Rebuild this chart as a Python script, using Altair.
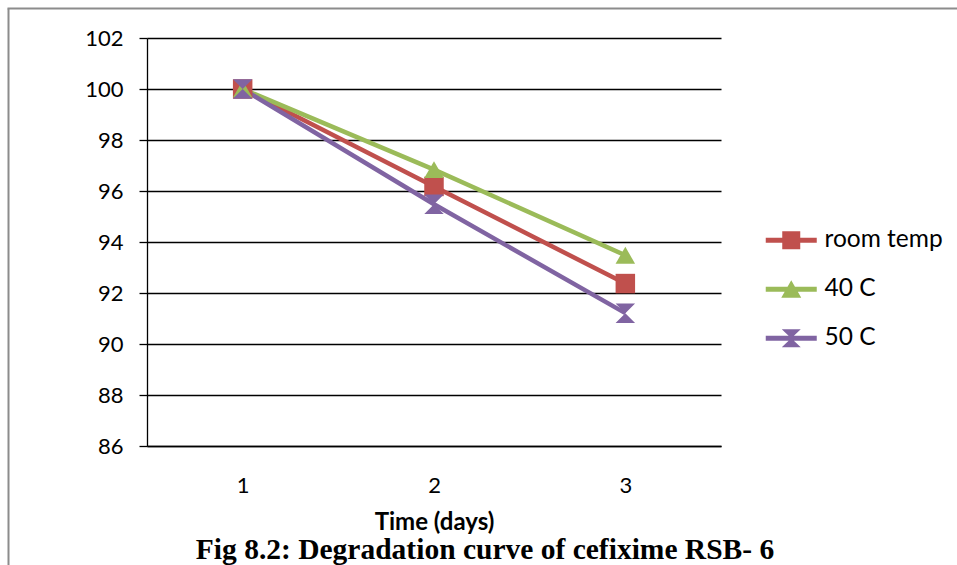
import altair as alt
import pandas as pd

# ---- data ----
days = [1, 2, 3]
series_names = ["room temp", "40 C", "50 C"]
room_temp = [100.0, 96.18, 92.37]
c40 = [100.0, 96.84, 93.48]
c50 = [100.0, 95.48, 91.21]
y_ticks = [86, 88, 90, 92, 94, 96, 98, 100, 102]
colors = ["#C0504D", "#9BBB59", "#8064A2"]

rows = []
for name, vals in zip(series_names, [room_temp, c40, c50]):
    for d, v in zip(days, vals):
        rows.append({"day": d, "value": v, "series": name})
df = pd.DataFrame(rows)

# marker shapes
hourglass = "M-1,-1H1L0,0Z M0,0L1,1H-1Z"
plot_shapes = ["square", "triangle-up", hourglass]
bar = "M-2.55,-0.25H2.55V0.25H-2.55Z "
legend_shapes = [
    bar + "M-0.9,-0.9H0.9V0.9H-0.9Z",
    bar + "M0,-0.9L1,0.85H-1Z",
    bar + "M-0.95,-0.9H0.95L0,0Z M0,0L0.95,0.9H-0.95Z",
]

FONT = "Lato"

x_enc = alt.X(
    "day:O",
    title="Time (days)",
    axis=alt.Axis(
        labelAngle=0,
        ticks=False,
        grid=False,
        domain=True,
        domainColor="black",
        domainWidth=1.3,
        labelFont=FONT,
        labelFontSize=22,
        labelColor="black",
        labelPadding=29,
        titleFont=FONT,
        titleFontSize=24,
        titleFontWeight="bold",
        titleColor="black",
        titlePadding=14,
    ),
)
y_enc = alt.Y(
    "value:Q",
    title=None,
    scale=alt.Scale(domain=[86, 102], nice=False, zero=False),
    axis=alt.Axis(
        values=y_ticks,
        grid=True,
        gridColor="black",
        gridWidth=1.3,
        domain=True,
        domainColor="black",
        domainWidth=1.3,
        ticks=True,
        tickColor="black",
        tickSize=8,
        tickWidth=1.3,
        labelFont=FONT,
        labelFontSize=22,
        labelColor="black",
        labelPadding=16,
    ),
)

color_scale = alt.Scale(domain=series_names, range=colors)

lines = alt.Chart(df).mark_line(strokeWidth=4.5).encode(
    x=x_enc,
    y=y_enc,
    color=alt.Color("series:N", scale=color_scale, legend=None),
    order=alt.Order("day:O"),
)

points = alt.Chart(df).mark_point(filled=True, size=380, opacity=1).encode(
    x=x_enc,
    y=y_enc,
    color=alt.Color("series:N", scale=color_scale, legend=None),
    shape=alt.Shape("series:N", scale=alt.Scale(domain=series_names, range=plot_shapes), legend=None),
)

legend_opts = dict(
    title=None,
    orient="none",
    legendX=632,
    legendY=190,
    symbolSize=400,
    symbolOpacity=1,
    symbolStrokeWidth=0,
    labelFont=FONT,
    labelFontSize=24.5,
    labelColor="black",
    labelOffset=21,
    rowPadding=24,
    padding=0,
)

legend_layer = alt.Chart(df).mark_point(filled=True, size=400, opacity=0).encode(
    x=x_enc,
    y=y_enc,
    color=alt.Color("series:N", scale=color_scale, legend=alt.Legend(**legend_opts)),
    shape=alt.Shape(
        "series:N",
        scale=alt.Scale(domain=series_names, range=legend_shapes),
        legend=alt.Legend(**legend_opts),
    ),
)

one = alt.Data(values=[{"k": 1}])
frame_left = alt.Chart(one).mark_rule(color="#8c8c8c", strokeWidth=2).encode(
    x=alt.value(-138.5), y=alt.value(-29.5), y2=alt.value(527)
)
frame_top = alt.Chart(one).mark_rule(color="#8c8c8c", strokeWidth=2).encode(
    x=alt.value(-139.5), x2=alt.value(830), y=alt.value(-29.5)
)

chart = (
    alt.layer(frame_left, frame_top, lines, points, legend_layer)
    .resolve_scale(color="independent", shape="independent")
    .properties(
        width=574,
        height=408,
        padding={"left": 147, "top": 38, "right": 236, "bottom": 119},
        autosize=alt.AutoSizeParams(type="none"),
        background="white",
        title=alt.TitleParams(
            "Fig 8.2: Degradation curve of cefixime RSB- 6",
            orient="bottom",
            anchor="middle",
            font="Liberation Serif",
            fontSize=29.5,
            fontWeight="bold",
            color="black",
            offset=-30,
            dx=51,
        ),
    )
    .configure_view(stroke=None)
)

chart.save("out.html", embed_options={"renderer": "svg", "actions": False})
